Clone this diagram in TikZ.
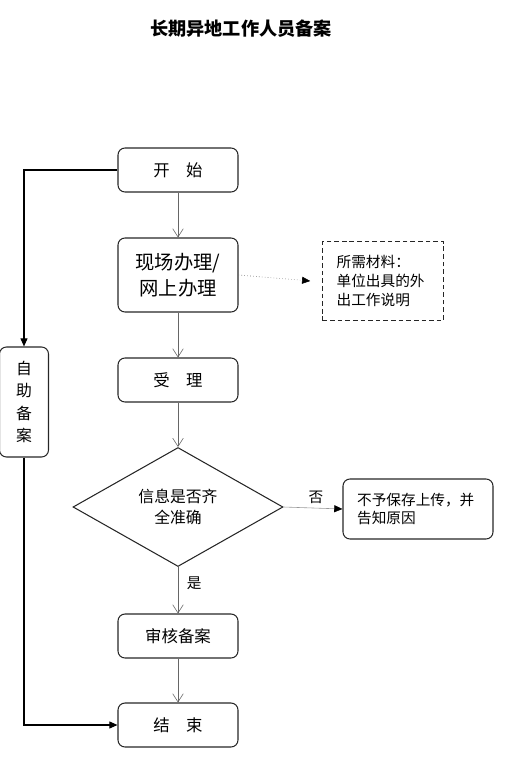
\documentclass[tikz,border=0pt]{standalone}
\usepackage{fontspec}
\setmainfont{Noto Sans CJK SC}
\usetikzlibrary{shapes.geometric, arrows.meta}

\begin{document}
\begin{tikzpicture}[x=0.03cm, y=-0.03cm,
  stepbox/.style={draw=black!85, line width=0.9pt, rounded corners=6pt,
    minimum width=3.6cm, minimum height=1.32cm, inner sep=2pt, font=\fontsize{14pt}{17pt}\selectfont},
  notebox/.style={draw=black!85, line width=0.9pt, align=left, inner xsep=12pt, inner ysep=0pt,
    font=\fontsize{12.5pt}{16pt}\selectfont},
  flow/.style={draw=black!60, line width=0.5pt, -{Straight Barb[length=7pt, width=9pt]}},
  side/.style={draw=black, line width=1pt, -{Triangle[length=7pt, width=6pt]}}]
  \useasboundingbox (0,0) rectangle (509,767);

  \node[font=\bfseries\fontsize{15.5pt}{18pt}\selectfont] (title) at (241,29) {长期异地工作人员备案};

  % main column
  \node[stepbox] (start) at (178,170) {开\quad 始};
  \node[stepbox, minimum height=2.22cm, align=center, font=\fontsize{16.5pt}{22pt}\selectfont]
    (apply) at (178,275) {现场办理/\\网上办理};
  \node[stepbox] (accept) at (178,380) {受\quad 理};
  \node[diamond, draw=black!85, line width=0.9pt, inner sep=0pt, aspect=1.76,
    minimum width=6.3cm, minimum height=3.57cm, align=center,
    font=\fontsize{13.5pt}{18pt}\selectfont] (check) at (178,507) {信息是否齐\\全准确};
  \node[stepbox] (review) at (178,636) {审核备案};
  \node[stepbox] (finish) at (178,725) {结\quad 束};

  % side boxes
  \node[stepbox, minimum width=1.47cm, minimum height=3.3cm, align=center,
    font=\fontsize{13.5pt}{19pt}\selectfont] (self) at (24,402) {自\\助\\备\\案};
  \node[notebox, dashed, dash pattern=on 4pt off 2.5pt, minimum width=3.63cm, minimum height=2.37cm,
    text width=2.78cm] (docs) at (383,281) {所需材料：\\单位出具的外\\出工作说明};
  \node[notebox, rounded corners=6pt, minimum width=4.5cm, minimum height=1.8cm,
    text width=3.65cm] (reject) at (418,509) {不予保存上传，并\\告知原因};

  % connectors
  \draw[flow] (start) -- (apply);
  \draw[flow] (apply) -- (accept);
  \draw[flow] (accept) -- (check);
  \draw[flow] (check) -- node[right, xshift=4pt, font=\fontsize{12.5pt}{14pt}\selectfont, pos=0.35] {是} (review);
  \draw[flow] (review) -- (finish);
  \draw[draw=black!55, line width=0.5pt, dotted, -{Triangle[length=7pt, width=6pt, black]}]
    (apply.east) -- ([xshift=-10pt]docs.west);
  \draw[draw=black!40, line width=0.5pt, -{Triangle[length=7pt, width=6pt, black]}]
    (check.east) -- node[above, pos=0.55, font=\fontsize{12.5pt}{14pt}\selectfont] {否} (reject.west);
  \draw[side] (start.west) -| (self.north);
  \draw[side] (self.south) |- (finish.west);
\end{tikzpicture}
\end{document}
